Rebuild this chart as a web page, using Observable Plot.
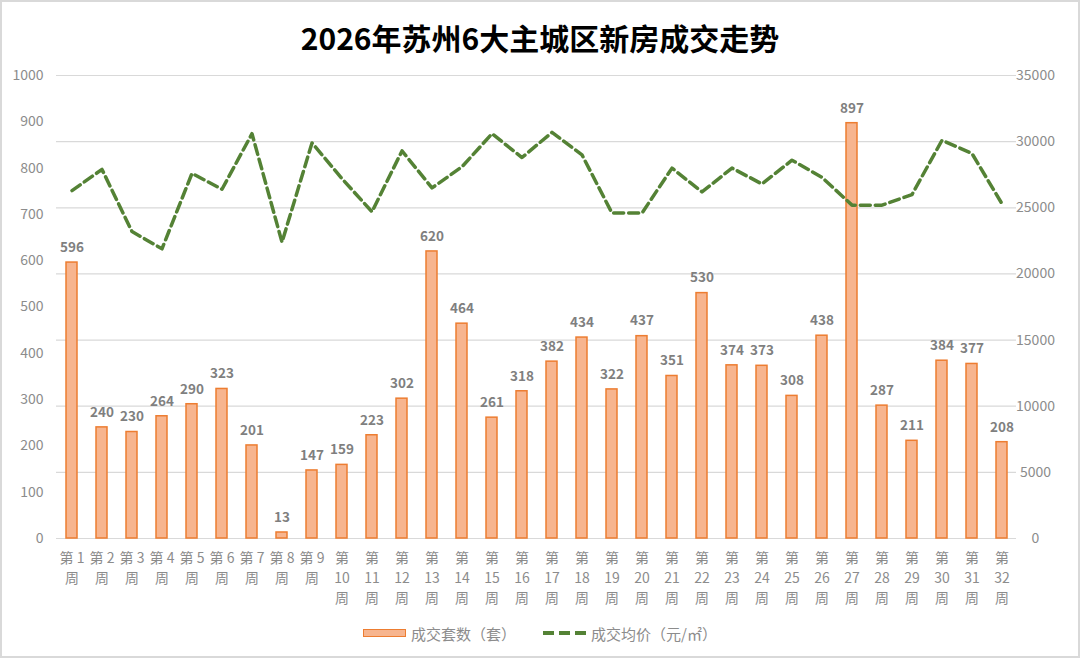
<!DOCTYPE html>
<html>
<head>
<meta charset="utf-8">
<script src="https://cdn.jsdelivr.net/npm/d3@7"></script>
<script src="https://cdn.jsdelivr.net/npm/@observablehq/plot@0.6"></script>
<style>
  html, body { margin: 0; padding: 0; background: #fff; }
  #wrap { position: relative; width: 1080px; height: 658px; overflow: hidden; background: #fff;
          font-family: "Noto Sans CJK SC", "Noto Sans", sans-serif; }
  #frame { position: absolute; left: 0; top: 0; right: 0; bottom: 0; border: 2px solid #d9d9d9; pointer-events: none; }
  #title { height: 34px; padding-top: 20px; line-height: 34px; text-align: center; font-size: 30px; font-weight: bold; color: #000; }
  #legend { position: absolute; top: 624px; left: 363px; height: 18px; display: flex; align-items: center; font-size: 15px; color: #8c8c8c; }
  .sw { width: 41px; height: 6px; background: #f7b58f; border: 1.5px solid #ed7d31; }
</style>
</head>
<body>
<div id="wrap">
  <div id="title">2026年苏州6大主城区新房成交走势</div>
  <div id="chart"></div>
  <div id="legend">
    <div class="sw"></div><span style="margin-left:5px">成交套数（套）</span>
    <svg width="44" height="8" style="margin-left:27px"><line x1="0" y1="4" x2="44" y2="4" stroke="#548235" stroke-width="4" stroke-dasharray="11,5"/></svg><span style="margin-left:4px">成交均价（元/㎡）</span>
  </div>
  <div id="frame"></div>
</div>
<script>
const weeks = ["第1周","第2周","第3周","第4周","第5周","第6周","第7周","第8周","第9周","第10周",
  "第11周","第12周","第13周","第14周","第15周","第16周","第17周","第18周","第19周","第20周",
  "第21周","第22周","第23周","第24周","第25周","第26周","第27周","第28周","第29周","第30周",
  "第31周","第32周"];
const units = [596,240,230,264,290,323,201,13,147,159,223,302,620,464,261,318,382,434,322,437,351,530,374,373,308,438,897,287,211,384,377,208];
const prices = [26300,27900,23200,21900,27600,26400,30600,22400,29900,27200,24700,29300,26500,28100,30600,28800,30700,29000,24600,24600,28000,26200,28000,26800,28600,27300,25200,25200,26000,30100,29100,25300];
const leftTicks = [0,100,200,300,400,500,600,700,800,900,1000];
const rightTicks = [0,5000,10000,15000,20000,25000,30000,35000];

const leftMax = 1000, rightMax = 35000;
const toLeft = v => v * leftMax / rightMax;

const tickColor = "#8c8c8c";
const fmtWeek = d => {
  const n = d.slice(1, -1);
  return n.length === 1 ? `第 ${n}\n周` : `第\n${n}\n周`;
};

const chart = Plot.plot({
  width: 1080,
  height: 570,
  marginTop: 21,
  marginBottom: 86,
  marginLeft: 56,
  marginRight: 64,
  style: { fontFamily: '"Noto Sans CJK SC", "Noto Sans", sans-serif', background: "transparent" },
  x: { type: "band", domain: weeks, paddingInner: 0.64, paddingOuter: 0.32, axis: null },
  y: { domain: [0, leftMax], axis: null },
  marks: [
    Plot.gridY(rightTicks.map(toLeft), { stroke: "#d9d9d9", strokeOpacity: 1, strokeWidth: 1.2 }),
    Plot.axisY(leftTicks, { anchor: "left", tickSize: 0, tickPadding: 13, fontSize: 14, fill: tickColor, tickFormat: d => String(d) }),
    Plot.axisY(rightTicks.map(toLeft), { anchor: "right", tickSize: 0, tickPadding: 19, textAnchor: "middle", fontSize: 14, fill: tickColor, tickFormat: d => String(Math.round(d * rightMax / leftMax)) }),
    Plot.axisX(weeks, { anchor: "bottom", tickSize: 0, tickPadding: 11, fontSize: 14, lineHeight: 1.4, fill: tickColor, tickFormat: fmtWeek }),
    Plot.barY(units, { x: (d, i) => weeks[i], y: d => d, fill: "#f7b58f", stroke: "#ed7d31", strokeWidth: 1.5 }),
    Plot.text(units, { x: (d, i) => weeks[i], y: d => d, text: d => String(d), dy: -15, fontWeight: "bold", fontSize: 13.5, fill: "#7f7f7f" }),
    Plot.line(prices, { x: (d, i) => weeks[i], y: d => toLeft(d), stroke: "#548235", strokeWidth: 3.5, strokeDasharray: "10,5" })
  ]
});
document.getElementById("chart").appendChild(chart);
</script>
</body>
</html>
